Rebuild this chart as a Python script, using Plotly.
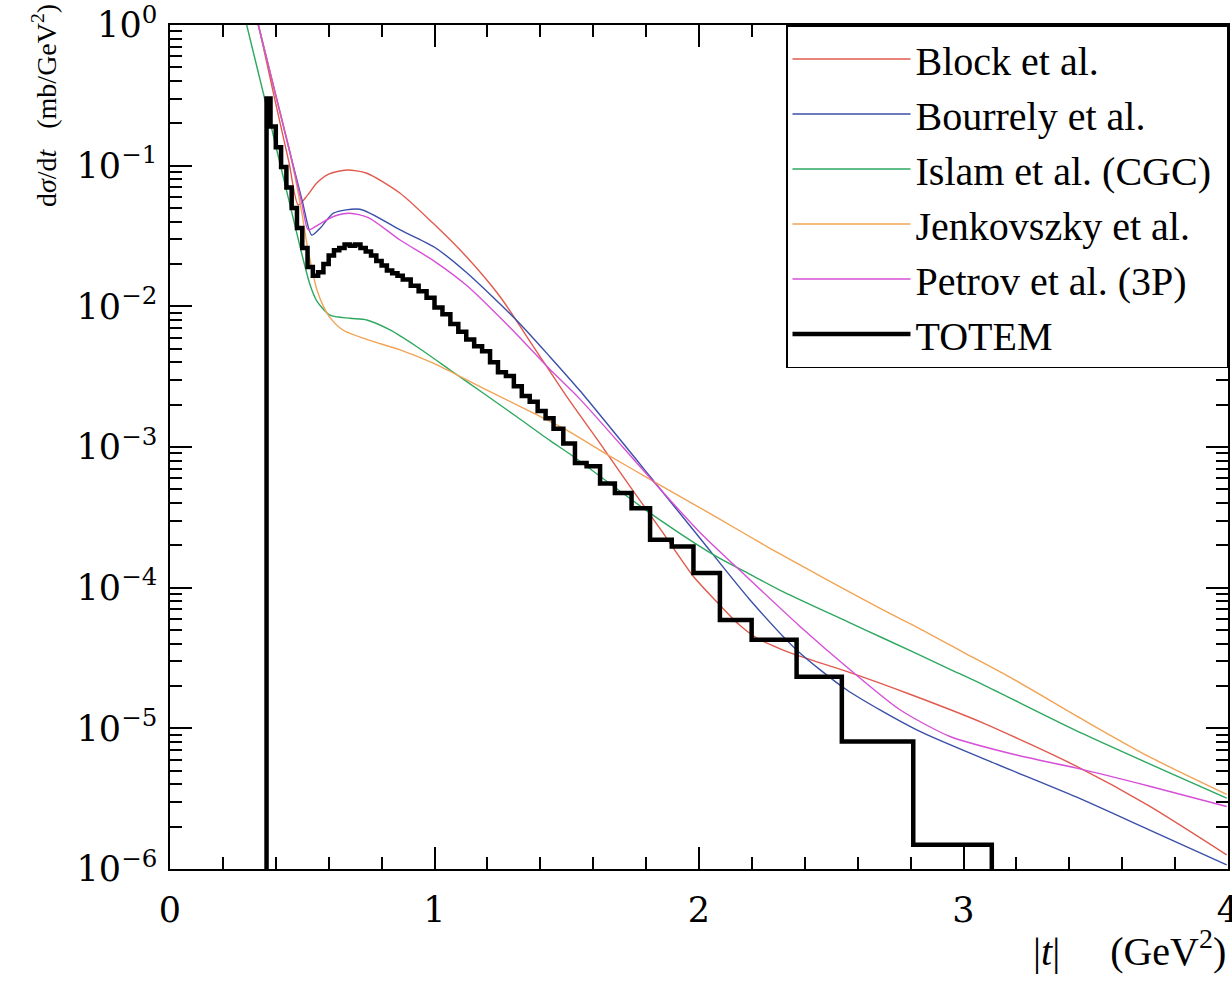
import plotly.graph_objects as go

# ---------------- data ----------------
t_block = [0.31, 0.334, 0.40, 0.45, 0.485, 0.52, 0.554, 0.60, 0.668, 0.744, 0.87, 0.995, 1.121, 1.248,
           1.374, 1.50, 1.62, 1.739, 1.86, 1.979, 2.067, 2.15, 2.22, 2.30, 2.369, 2.558, 2.80, 3.075,
           3.428, 3.70, 3.995]
ds_block = [1.48, 1.0, 0.275, 0.105, 0.0526, 0.0617, 0.075, 0.0871, 0.0931, 0.0883, 0.0637, 0.0389,
            0.0225, 0.0117, 5.18e-3, 2.28e-3, 1.10e-3, 5.25e-4, 2.51e-4, 1.20e-4, 7.94e-5, 5.50e-5,
            4.37e-5, 3.72e-5, 3.31e-5, 2.54e-5, 1.74e-5, 1.09e-5, 5.36e-6, 2.82e-6, 1.26e-6]

t_bourrely = [0.31, 0.334, 0.40, 0.45, 0.50, 0.536, 0.57, 0.618, 0.718, 0.87, 1.0, 1.121, 1.311, 1.437,
              1.55, 1.815, 2.0, 2.193, 2.369, 2.558, 2.823, 3.1, 3.428, 3.7, 3.995]
ds_bourrely = [1.48, 1.0, 0.316, 0.132, 0.0562, 0.0321, 0.0363, 0.0459, 0.049, 0.0349, 0.0263, 0.0174,
               7.94e-3, 4.37e-3, 2.51e-3, 6.17e-4, 2.29e-4, 8.18e-5, 3.61e-5, 1.88e-5, 9.75e-6,
               5.82e-6, 3.24e-6, 1.905e-6, 1.07e-6]

t_islam = [0.27, 0.29, 0.353, 0.40, 0.45, 0.50, 0.53, 0.554, 0.605, 0.68, 0.744, 0.832, 0.932, 1.059,
           1.185, 1.311, 1.437, 1.512, 1.815, 2.067, 2.193, 2.319, 2.571, 2.697, 2.949, 3.075, 3.453,
           3.995]
ds_islam = [1.48, 1.0, 0.327, 0.138, 0.0562, 0.0229, 0.0141, 0.011, 8.65e-3, 8.22e-3, 8.0e-3, 6.79e-3,
            5.18e-3, 3.53e-3, 2.41e-3, 1.64e-3, 1.11e-3, 8.91e-4, 3.39e-4, 1.66e-4, 1.245e-4, 9.33e-5,
            5.62e-5, 4.37e-5, 2.63e-5, 2.04e-5, 9.12e-6, 3.19e-6]

t_jenkovszky = [0.30, 0.334, 0.40, 0.45, 0.498, 0.517, 0.542, 0.555, 0.58, 0.605, 0.655, 0.744, 0.87,
                0.995, 1.122, 1.248, 1.374, 1.5, 1.65, 1.815, 2.067, 2.268, 2.50, 2.697, 2.823, 3.0,
                3.188, 3.453, 3.70, 3.995]
ds_jenkovszky = [1.82, 1.0, 0.316, 0.132, 0.0468, 0.0282, 0.0166, 0.0132, 0.01, 8.32e-3, 6.76e-3,
                 5.82e-3, 4.9e-3, 3.94e-3, 3.0e-3, 2.28e-3, 1.74e-3, 1.32e-3, 8.91e-4, 5.89e-4,
                 3.16e-4, 1.905e-4, 1.096e-4, 6.92e-5, 5.25e-5, 3.47e-5, 2.24e-5, 1.148e-5, 6.31e-6,
                 3.39e-6]

t_petrov = [0.31, 0.334, 0.40, 0.45, 0.50, 0.523, 0.56, 0.618, 0.68, 0.75, 0.87, 1.0, 1.121, 1.311,
            1.437, 1.55, 1.815, 2.0, 2.193, 2.382, 2.571, 2.76, 2.949, 3.2, 3.428, 3.7, 3.995]
ds_petrov = [1.48, 1.0, 0.316, 0.132, 0.0525, 0.0349, 0.038, 0.0435, 0.0459, 0.0427, 0.0296, 0.0209,
             0.0141, 6.31e-3, 3.55e-3, 2.19e-3, 6.03e-4, 2.51e-4, 1.135e-4, 5.30e-5, 2.61e-5,
             1.355e-5, 8.75e-6, 6.46e-6, 5.21e-6, 3.89e-6, 2.78e-6]

totem_edges = [0.365, 0.38, 0.40, 0.42, 0.44, 0.46, 0.48, 0.50, 0.52, 0.54,
               0.56, 0.58, 0.60, 0.62, 0.64, 0.66, 0.68, 0.70, 0.72, 0.74,
               0.76, 0.78, 0.80, 0.82, 0.84, 0.86, 0.88, 0.91, 0.94, 0.97,
               1.00, 1.03, 1.06, 1.09, 1.12, 1.15, 1.18, 1.21, 1.24, 1.27,
               1.30, 1.33, 1.36, 1.39, 1.42, 1.45, 1.487, 1.531, 1.575, 1.626,
               1.682, 1.745, 1.815, 1.897, 1.979, 2.079, 2.199, 2.369, 2.54, 2.81,
               3.107]
totem_values = [0.30, 0.19, 0.135, 0.098, 0.070, 0.050, 0.036, 0.026, 0.019, 0.0165,
                0.0175, 0.020, 0.023, 0.025, 0.026, 0.0275, 0.027, 0.0275, 0.026, 0.0245,
                0.023, 0.021, 0.0195, 0.018, 0.0172, 0.0165, 0.0155, 0.014, 0.0128, 0.0115,
                0.0098, 0.0088, 0.0075, 0.0066, 0.0058, 0.0052, 0.0048, 0.0040, 0.0034, 0.0032,
                0.0027, 0.0023, 0.0021, 0.0018, 0.0016, 0.00135, 0.00106, 7.7e-4, 7.3e-4, 5.5e-4,
                4.7e-4, 3.67e-4, 2.19e-4, 1.96e-4, 1.27e-4, 5.9e-5, 4.26e-5, 2.33e-5, 8.06e-6, 1.49e-6]
totem_floor = 1e-9  # histogram outline drops below the axis floor

y_tickvals = [1, 1e-1, 1e-2, 1e-3, 1e-4, 1e-5, 1e-6]
y_ticktext = ["10<sup>0</sup>", "10<sup>−1</sup>", "10<sup>−2</sup>", "10<sup>−3</sup>",
              "10<sup>−4</sup>", "10<sup>−5</sup>", "10<sup>−6</sup>"]
x_tickvals = [0, 1, 2, 3, 4]
x_ticktext = ["0", "1", "2", "3", "4"]

# ---------------- figure ----------------
SERIF = "Liberation Serif"
TICKSERIF = "DejaVu Serif"
fig = go.Figure()

models = [
    ("Block et al.", t_block, ds_block, "#e05a4e"),
    ("Bourrely et al.", t_bourrely, ds_bourrely, "#3a4fa8"),
    ("Islam et al. (CGC)\u00a0", t_islam, ds_islam, "#2ea860"),
    ("Jenkovszky et al.", t_jenkovszky, ds_jenkovszky, "#f2a456"),
    ("Petrov et al. (3P)", t_petrov, ds_petrov, "#d64fd6"),
]
for i, (name, tx, ty, col) in enumerate(models):
    fig.add_trace(go.Scatter(x=tx, y=ty, mode="lines", name=name,
                             line=dict(color=col, width=1.4, shape="spline", smoothing=0.7),
                             legendgroup=f"g{i}"))

fig.add_trace(go.Scatter(x=[totem_edges[0]] + totem_edges,
                         y=[totem_floor] + totem_values + [totem_floor],
                         mode="lines", name="TOTEM",
                         line=dict(color="black", width=4.5, shape="hv"),
                         legendgroup="g5"))

axis_common = dict(showline=True, linecolor="black", linewidth=1.5, mirror="allticks",
                   ticks="inside", tickcolor="black", tickwidth=1.5, ticklen=22,
                   showgrid=False, zeroline=False, ticklabeloverflow="allow", automargin=False,
                   tickfont=dict(family=TICKSERIF, size=35, color="black"))

fig.update_xaxes(range=[0, 4], tickvals=x_tickvals, ticktext=x_ticktext, ticklabelstandoff=9,
                 minor=dict(ticks="inside", ticklen=12, tickcolor="black", tickwidth=1.5,
                            dtick=0.2, tick0=0, showgrid=False),
                 **axis_common)
fig.update_yaxes(type="log", range=[-6, 0], tickvals=y_tickvals, ticktext=y_ticktext,
                 ticklabelstandoff=4,
                 minor=dict(ticks="inside", ticklen=12, tickcolor="black", tickwidth=1.5,
                            dtick="D1", showgrid=False),
                 **axis_common)

fig.add_annotation(text="d<i>σ</i>/d<i>t</i>   (mb/GeV<sup>2</sup>)", textangle=-90,
                   xref="paper", yref="paper", x=-0.119, y=0.904, xanchor="center", yanchor="middle",
                   showarrow=False, font=dict(family=SERIF, size=28, color="black"))
fig.add_annotation(text="|<i>t</i>|&nbsp;&nbsp;&nbsp;&nbsp;&nbsp;(GeV<sup>2</sup>)",
                   xref="paper", yref="paper", x=1.0, y=-0.094, xanchor="right", yanchor="middle",
                   showarrow=False, font=dict(family=SERIF, size=40, color="black"))

fig.update_layout(
    width=1232, height=981,
    margin=dict(l=170, r=4, t=25, b=112, autoexpand=False),
    paper_bgcolor="white", plot_bgcolor="white",
    showlegend=True,
    legend=dict(x=1, xanchor="right", y=1, yanchor="top",
                bordercolor="black", borderwidth=1.5, bgcolor="white",
                font=dict(family=SERIF, size=40, color="black"),
                itemwidth=118, tracegroupgap=6, traceorder="normal"),
)

fig.write_html("out.html", config={"displayModeBar": False},
               post_script="document.body.style.margin='0';document.body.style.padding='0';"
                           "document.body.style.overflow='hidden';")
